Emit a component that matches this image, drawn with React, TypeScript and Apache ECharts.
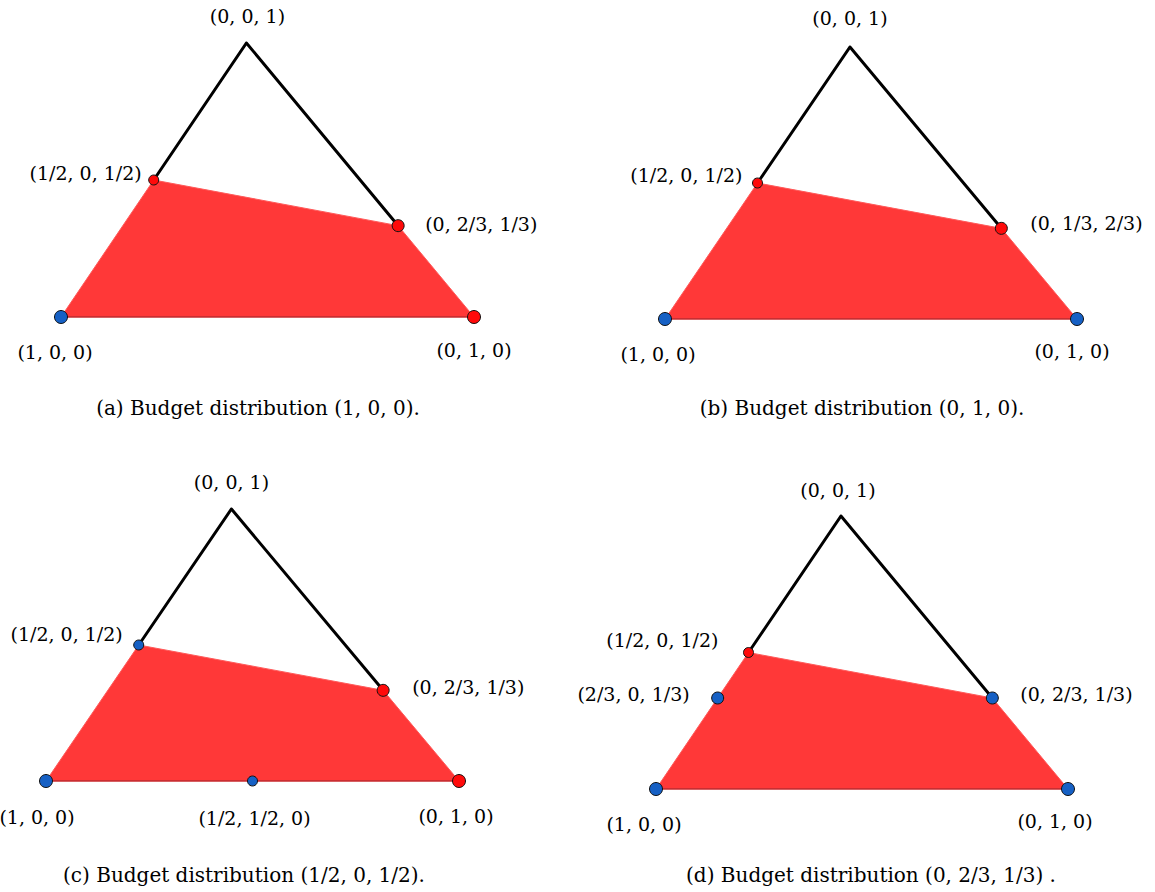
import React, { useEffect, useRef } from "react";
import * as echarts from "echarts";

// Horizontal share of the top vertex (0,0,1) between (1,0,0) and (0,1,0)
const APEX_SHARE = 0.449;

// Feasible region (red), same for all four panels, in barycentric coordinates
const feasibleRegion: number[][] = [
  [1, 0, 0],
  [0, 1, 0],
  [0, 2 / 3, 1 / 3],
  [1 / 2, 0, 1 / 2],
];
// Black simplex edges above the region
const upperEdges: number[][] = [
  [1 / 2, 0, 1 / 2],
  [0, 0, 1],
  [0, 2 / 3, 1 / 3],
];
const baseEdge: number[][] = [
  [1, 0, 0],
  [0, 1, 0],
];

const captions = [
  "(a) Budget distribution (1, 0, 0).",
  "(b) Budget distribution (0, 1, 0).",
  "(c) Budget distribution (1/2, 0, 1/2).",
  "(d) Budget distribution (0, 2/3, 1/3) .",
];

type Pt = { bary: number[]; color: "red" | "blue" | null; size: "big" | "mid" | "small"; text: string };

const pointsA: Pt[] = [
  { bary: [1, 0, 0], color: "blue", size: "big", text: "(1, 0, 0)" },
  { bary: [0, 1, 0], color: "red", size: "big", text: "(0, 1, 0)" },
  { bary: [0, 0, 1], color: null, size: "big", text: "(0, 0, 1)" },
  { bary: [1 / 2, 0, 1 / 2], color: "red", size: "small", text: "(1/2, 0, 1/2)" },
  { bary: [0, 2 / 3, 1 / 3], color: "red", size: "mid", text: "(0, 2/3, 1/3)" },
];
const pointsB: Pt[] = [
  { bary: [1, 0, 0], color: "blue", size: "big", text: "(1, 0, 0)" },
  { bary: [0, 1, 0], color: "blue", size: "big", text: "(0, 1, 0)" },
  { bary: [0, 0, 1], color: null, size: "big", text: "(0, 0, 1)" },
  { bary: [1 / 2, 0, 1 / 2], color: "red", size: "small", text: "(1/2, 0, 1/2)" },
  { bary: [0, 2 / 3, 1 / 3], color: "red", size: "mid", text: "(0, 1/3, 2/3)" },
];
const pointsC: Pt[] = [
  { bary: [1, 0, 0], color: "blue", size: "big", text: "(1, 0, 0)" },
  { bary: [0, 1, 0], color: "red", size: "big", text: "(0, 1, 0)" },
  { bary: [0, 0, 1], color: null, size: "big", text: "(0, 0, 1)" },
  { bary: [1 / 2, 0, 1 / 2], color: "blue", size: "small", text: "(1/2, 0, 1/2)" },
  { bary: [0, 2 / 3, 1 / 3], color: "red", size: "mid", text: "(0, 2/3, 1/3)" },
  { bary: [1 / 2, 1 / 2, 0], color: "blue", size: "small", text: "(1/2, 1/2, 0)" },
];
const pointsD: Pt[] = [
  { bary: [1, 0, 0], color: "blue", size: "big", text: "(1, 0, 0)" },
  { bary: [0, 1, 0], color: "blue", size: "big", text: "(0, 1, 0)" },
  { bary: [0, 0, 1], color: null, size: "big", text: "(0, 0, 1)" },
  { bary: [1 / 2, 0, 1 / 2], color: "red", size: "small", text: "(1/2, 0, 1/2)" },
  { bary: [2 / 3, 0, 1 / 3], color: "blue", size: "mid", text: "(2/3, 0, 1/3)" },
  { bary: [0, 2 / 3, 1 / 3], color: "blue", size: "mid", text: "(0, 2/3, 1/3)" },
];
const panelPoints = [pointsA, pointsB, pointsC, pointsD];

// ---- layout / style (not data) ----
const gridBoxes = [
  { left: 61, top: 43, width: 413, height: 274 },
  { left: 665, top: 47, width: 412, height: 272 },
  { left: 46, top: 509, width: 413, height: 272 },
  { left: 656, top: 516, width: 412, height: 273 },
];
const captionPos = [
  [258, 408],
  [862, 408],
  [244, 875],
  [871, 875],
];
// [align, dx, dy] per label, same order as the point arrays
const labelPlacement: [string, number, number][][] = [
  [["center", -6, 35], ["center", 0, 33], ["center", 1, -27], ["right", -12, -7], ["left", 27, -2]],
  [["center", -7, 35], ["center", -5, 32], ["center", 0, -29], ["right", -15, -8], ["left", 29, -5]],
  [["center", -9, 36], ["center", -3, 35], ["center", 0, -27], ["right", -16, -11], ["left", 29, -3], ["center", 2, 37]],
  [["center", -12, 35], ["center", -13, 32], ["center", -3, -26], ["right", -30, -13], ["right", -28, -4], ["left", 28, -4]],
];
const dotColor = { red: "#ff0a0a", blue: "#1660c4" };
const dotSize = { big: 13, mid: 12, small: 10 };
const FONT = "DejaVu Serif";

const toXY = (b: number[]) => [b[1] + b[2] * APEX_SHARE, b[2]];

export default function App() {
  const ref = useRef<HTMLDivElement>(null);
  useEffect(() => {
    if (!ref.current) return;
    const chart = echarts.init(ref.current, null, { renderer: "svg" });
    const grid: any[] = [];
    const xAxis: any[] = [];
    const yAxis: any[] = [];
    const series: any[] = [];
    panelPoints.forEach((pts, i) => {
      grid.push({ ...gridBoxes[i], containLabel: false });
      xAxis.push({ type: "value", gridIndex: i, min: 0, max: 1, show: false });
      yAxis.push({ type: "value", gridIndex: i, min: 0, max: 1, show: false });
      const regionXY = feasibleRegion.map(toXY);
      series.push({
        type: "custom",
        xAxisIndex: i,
        yAxisIndex: i,
        silent: true,
        z: 1,
        data: [regionXY[0]],
        renderItem: (_p: any, api: any) => ({
          type: "polygon",
          shape: { points: regionXY.map((q) => api.coord(q)) },
          style: { fill: "#ff3838", stroke: "#ff5a5a", lineWidth: 1 },
        }),
      });
      series.push({
        type: "line",
        xAxisIndex: i,
        yAxisIndex: i,
        silent: true,
        z: 2,
        symbol: "none",
        data: baseEdge.map(toXY),
        lineStyle: { color: "#b8262b", width: 1.6 },
      });
      series.push({
        type: "line",
        xAxisIndex: i,
        yAxisIndex: i,
        silent: true,
        z: 3,
        symbol: "none",
        data: upperEdges.map(toXY),
        lineStyle: { color: "#000", width: 3, join: "miter" },
      });
      series.push({
        type: "scatter",
        xAxisIndex: i,
        yAxisIndex: i,
        silent: true,
        z: 4,
        data: pts
          .filter((p) => p.color)
          .map((p) => ({
            value: toXY(p.bary),
            symbolSize: dotSize[p.size],
            itemStyle: {
              color: dotColor[p.color as "red" | "blue"],
              borderColor: "#111",
              borderWidth: 1,
              opacity: 1,
            },
          })),
      });
      series.push({
        type: "scatter",
        xAxisIndex: i,
        yAxisIndex: i,
        silent: true,
        z: 5,
        symbolSize: 1,
        itemStyle: { color: "transparent", opacity: 1 },
        data: pts.map((p, k) => {
          const [align, dx, dy] = labelPlacement[i][k];
          return {
            value: toXY(p.bary),
            label: {
              show: true,
              formatter: p.text,
              position: "inside",
              align,
              verticalAlign: "middle",
              offset: [dx, dy],
              color: "#000",
              opacity: 1,
              fontFamily: FONT,
              fontSize: 19,
            },
          };
        }),
      });
    });
    chart.setOption({
      animation: false,
      backgroundColor: "#fff",
      grid,
      xAxis,
      yAxis,
      series,
      graphic: captions.map((t, i) => ({
        type: "text",
        x: captionPos[i][0],
        y: captionPos[i][1],
        style: {
          text: t,
          fill: "#000",
          font: `20px "${FONT}"`,
          textAlign: "center",
          textVerticalAlign: "middle",
        },
      })),
    });
    return () => chart.dispose();
  }, []);
  return <div ref={ref} style={{ position: "fixed", left: 0, top: 0, width: 1155, height: 892 }} />;
}
